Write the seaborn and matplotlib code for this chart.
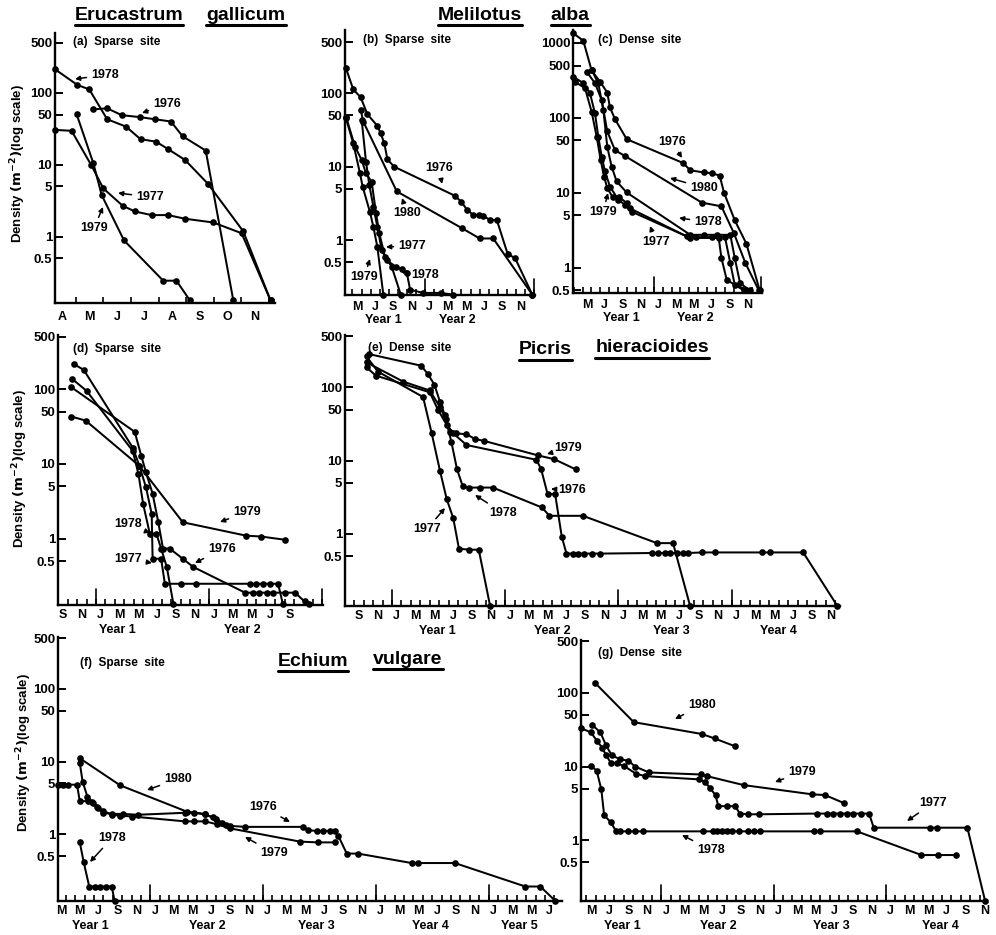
import numpy as np
import pandas as pd
import seaborn as sns
import matplotlib.pyplot as plt
from matplotlib.lines import Line2D
from matplotlib.text import Annotation
from matplotlib.ticker import FixedLocator, NullLocator

W, H = 996, 935

sns.set_style("ticks")
plt.rcParams['font.family'] = ['Liberation Sans', 'DejaVu Sans']
plt.rcParams['font.weight'] = 'bold'
plt.rcParams['axes.linewidth'] = 1.7
for key in ('text.color', 'axes.edgecolor', 'axes.labelcolor', 'xtick.color', 'ytick.color'):
    plt.rcParams[key] = 'k'

# ---- data: month index (1 = Jan of first year), density per m2 ----
# (a) Erucastrum gallicum, sparse site
a_1976_m = [5.14, 5.64, 6.17, 6.83, 7.37, 7.95, 8.37, 9.21, 10.21]
a_1976_d = [59, 61, 49, 46, 43, 40, 25, 15.8, 0.13]
a_1977_m = [3.75, 4.35, 5.07, 5.50, 6.20, 6.64, 7.25, 7.85, 8.46, 9.48, 10.51, 11.56]
a_1977_d = [30.6, 29.7, 9.8, 4.7, 2.7, 2.25, 2.0, 2.0, 1.78, 1.58, 1.12, 0.13]
a_1978_m = [3.75, 4.56, 4.99, 5.64, 6.32, 6.85, 7.41, 7.85, 8.46, 9.30, 10.57, 11.56]
a_1978_d = [213, 129, 112, 43, 34, 22.7, 21, 16.5, 11.7, 5.4, 1.19, 0.13]
a_1979_m = [4.53, 5.14, 5.44, 6.25, 7.67, 8.15, 8.64]
a_1979_d = [51, 10.5, 3.8, 0.89, 0.245, 0.245, 0.13]

# (b) Melilotus alba, sparse site
b_1976_m = [3.79, 4.59, 5.41, 6.14, 7.24, 7.61, 8.01, 8.35, 9.08, 15.8, 16.5, 17.1,
            17.8, 18.4, 18.9, 19.7, 20.4, 21.6, 22.4, 24.3]
b_1976_d = [219, 113, 88, 52, 36, 28.5, 20.8, 12.6, 10, 4.0, 3.3, 2.6,
            2.2, 2.2, 2.13, 1.87, 1.87, 0.64, 0.57, 0.18]
b_1977_m = [3.79, 4.78, 5.52, 5.99, 6.62, 7.10, 7.46, 8.09, 8.83, 9.82]
b_1977_d = [48, 18.8, 12.3, 8.1, 6.2, 2.3, 1.23, 0.59, 0.43, 0.18]
b_1978_m = [5.52, 5.99, 6.36, 6.80, 7.24, 7.72, 8.28, 9.30, 9.93, 10.5, 10.85, 12.3, 14.2, 15.6]
b_1978_d = [43, 11.7, 5.6, 2.85, 1.52, 0.73, 0.53, 0.43, 0.40, 0.35, 0.21, 0.19, 0.19, 0.18]
b_1979_m = [3.79, 4.59, 5.33, 5.63, 6.43, 6.80, 7.24, 7.9]
b_1979_d = [45.6, 20.8, 8.1, 5.3, 2.4, 1.52, 0.81, 0.18]
b_1980_m = [5.41, 5.70, 9.38, 16.6, 18.5, 20.0, 24.3]
b_1980_d = [59, 41, 4.6, 1.44, 1.05, 1.05, 0.18]

# (c) Melilotus alba, dense site
c_1976_m = [3.39, 4.59, 5.52, 6.46, 7.28, 7.58, 8.15, 9.46, 15.8, 16.6, 18.1, 19.0,
            19.9, 20.4, 21.6, 22.9, 24.4]
c_1976_d = [1370, 1070, 430, 305, 218, 138, 96, 52, 25, 20, 18.7, 18.3,
            17, 10, 4.3, 2.1, 0.5]
c_1977_m = [3.46, 4.59, 5.34, 5.90, 6.27, 6.65, 7.02, 7.58, 8.52, 9.27, 10.02, 16.6,
            19.8, 20.1, 20.7, 22.6]
c_1977_d = [356, 290, 213, 115, 56, 30.5, 19.3, 12.1, 8.1, 6.9, 5.6, 2.5,
            2.5, 1.35, 0.69, 0.5]
c_1978_m = [5.52, 6.27, 6.84, 7.28, 7.77, 8.33, 9.46, 16.6, 18.1, 19.6, 21.1, 21.6, 22.2, 23.3]
c_1978_d = [437, 290, 128, 41, 22.4, 14.2, 10.1, 2.75, 2.75, 2.75, 2.75, 1.35, 0.62, 0.5]
c_1979_m = [3.65, 4.78, 5.52, 6.09, 6.54, 6.91, 7.28, 7.88, 8.63, 9.46, 9.83, 16.2,
            17.3, 19.0, 20.5, 21.1, 21.6, 22.9]
c_1979_d = [305, 249, 121, 56, 27.5, 16.5, 11.6, 8.75, 8.75, 7.3, 6.2, 2.62,
            2.56, 2.56, 2.56, 1.15, 0.59, 0.5]
c_1980_m = [4.96, 5.90, 6.65, 7.28, 8.15, 9.27, 17.9, 20.1, 21.5, 22.8, 24.3]
c_1980_d = [415, 290, 174, 66, 37, 31, 7.4, 6.6, 2.9, 1.15, 0.5]

# (d) Picris hieracioides, sparse site
d_1976_m = [9.8, 16.6, 17.3, 17.8, 18.5, 19.1, 19.6, 20.3, 21.7, 22.8, 28.3, 29.1,
            29.8, 30.6, 31.3, 32.5, 33.6, 34.6, 35.1]
d_1976_d = [108, 26.9, 12.8, 7.7, 4.0, 1.66, 0.74, 0.74, 0.54, 0.42, 0.19, 0.19,
            0.19, 0.19, 0.19, 0.19, 0.19, 0.145, 0.135]
d_1977_m = [10.2, 11.2, 16.4, 17.1, 17.8, 18.4, 18.5, 19.4, 19.8, 21.5, 23.1, 28.8,
            29.5, 30.2, 30.9, 31.8, 32.3]
d_1977_d = [215, 181, 16.5, 9.4, 4.85, 2.15, 0.54, 0.54, 0.25, 0.25, 0.25, 0.25,
            0.25, 0.25, 0.25, 0.25, 0.135]
d_1978_m = [10.0, 11.5, 16.4, 17.0, 17.5, 18.2, 18.9, 19.4, 20.0, 20.7]
d_1978_d = [136, 95, 14.9, 7.3, 2.9, 1.17, 1.17, 0.74, 0.42, 0.135]
d_1979_m = [9.9, 11.4, 17.1, 21.7, 28.4, 30.0, 32.5]
d_1979_d = [43, 38, 9.4, 1.66, 1.1, 1.07, 0.97]

# (e) Picris hieracioides, dense site
e_1976_m = [9.8, 10.8, 16.5, 17.4, 18.3, 19.0, 20.4, 27.8, 28.3, 29.0, 29.8, 30.5,
            31.0, 31.7, 32.2, 32.9, 33.7, 34.6, 40.1, 40.7, 41.4, 42.0, 42.7, 43.4,
            43.9, 45.4, 46.8, 51.7, 52.6, 56.1, 59.7]
e_1976_d = [188, 145, 86, 49, 31, 23.6, 16.4, 10.3, 7.8, 3.5, 3.5, 0.92,
            0.54, 0.54, 0.54, 0.54, 0.54, 0.54, 0.55, 0.55, 0.55, 0.55, 0.55, 0.55,
            0.55, 0.56, 0.56, 0.56, 0.56, 0.56, 0.105]
e_1977_m = [9.8, 11.0, 15.8, 16.7, 17.6, 18.3, 19.0, 19.6, 20.7, 21.7, 22.9]
e_1977_d = [265, 165, 74, 24, 7.2, 3.0, 1.64, 0.63, 0.61, 0.61, 0.105]
e_1978_m = [9.8, 13.7, 16.5, 17.6, 18.2, 18.8, 19.4, 20.0, 20.7, 21.8, 23.2, 28.4,
            29.2, 32.75, 40.6, 42.3, 44.1]
e_1978_d = [220, 120, 91, 54, 37, 18, 7.6, 4.5, 4.3, 4.3, 4.3, 2.3,
            1.77, 1.77, 0.75, 0.75, 0.105]
e_1979_m = [10.1, 15.6, 16.3, 17.0, 17.6, 18.1, 18.7, 19.3, 20.4, 21.3, 22.3, 28.0, 29.7, 32.0]
e_1979_d = [285, 198, 153, 109, 63, 42, 25, 23.6, 23, 19.8, 18.6, 11.8, 10.5, 7.6]

# (f) Echium vulgare, sparse site
f_1976_m = [2.7, 3.2, 3.7, 4.7, 5.0, 5.9, 6.4, 6.9, 7.5, 8.4, 9.6, 11.2, 16.2, 17.2,
            18.3, 19.2, 20.1, 21.0, 22.6, 28.7, 29.3, 30.2, 30.9, 31.6, 32.1, 32.5,
            33.4, 34.6, 40.3, 41.0, 44.9, 52.4, 54.0, 55.6]
f_1976_d = [4.8, 4.8, 4.8, 4.8, 2.85, 2.85, 2.7, 2.3, 1.97, 1.9, 1.9, 1.85, 1.97, 1.97,
            1.87, 1.7, 1.44, 1.3, 1.26, 1.26, 1.13, 1.11, 1.11, 1.11, 1.11, 0.95,
            0.54, 0.54, 0.40, 0.40, 0.40, 0.19, 0.19, 0.12]
f_1978_m = [5.0, 5.4, 6.0, 6.6, 7.1, 7.8, 8.4, 8.7]
f_1978_d = [0.77, 0.42, 0.19, 0.19, 0.19, 0.19, 0.19, 0.12]
f_1979_m = [5.0, 5.3, 5.8, 6.3, 6.8, 7.5, 8.4, 9.3, 10.6, 16.2, 17.2, 18.3, 19.6, 21.0,
            28.4, 30.3, 32.1]
f_1979_d = [9.5, 5.3, 3.3, 2.8, 2.4, 2.1, 1.85, 1.8, 1.75, 1.5, 1.5, 1.5, 1.37, 1.2,
            0.79, 0.77, 0.77]
f_1980_m = [5.0, 9.3, 16.4, 18.3, 19.5, 20.6]
f_1980_d = [11.1, 4.7, 2.04, 1.9, 1.6, 1.35]

# (g) Echium vulgare, dense site
g_1977_m = [3.95, 5.0, 5.6, 6.2, 6.6, 7.1, 7.8, 8.5, 9.8, 10.8, 16.5, 17.2, 17.7, 18.3,
            18.6, 19.5, 20.4, 20.9, 21.8, 22.9, 29.1, 30.2, 30.9, 31.6, 32.3, 33.0,
            33.8, 34.7, 35.2, 41.2, 42.0, 45.2, 47.1]
g_1977_d = [33, 29, 22.5, 18, 14.3, 11.3, 11, 10.2, 8, 7.4, 6.7, 6.2, 5.1, 4.1,
            2.9, 2.9, 2.9, 2.3, 2.25, 2.25, 2.3, 2.3, 2.3, 2.3, 2.3, 2.3,
            2.3, 2.3, 1.48, 1.48, 1.48, 1.48, 0.15]
g_1978_m = [5.0, 5.6, 6.1, 6.4, 7.1, 7.7, 8.1, 8.9, 9.7, 10.6, 17.0, 18.0, 18.5, 19.0,
            19.5, 20.1, 20.8, 21.8, 22.4, 23.1, 28.8, 29.5, 33.4, 40.3, 42.1, 44.0]
g_1978_d = [10.2, 8.8, 4.9, 2.2, 1.75, 1.32, 1.32, 1.32, 1.32, 1.32, 1.32, 1.32, 1.32,
            1.32, 1.32, 1.32, 1.32, 1.32, 1.32, 1.32, 1.32, 1.32, 1.32, 0.63, 0.63, 0.63]
g_1979_m = [5.1, 6.0, 6.6, 7.2, 8.1, 9.0, 9.7, 11.2, 16.7, 17.4, 21.3, 28.6, 30.0, 32.0]
g_1979_d = [37, 29, 19.4, 14.3, 12.5, 12, 10, 8.3, 7.8, 7.4, 5.6, 4.2, 4.1, 3.2]
g_1980_m = [5.46, 9.56, 16.85, 18.2, 20.4]
g_1980_d = [135, 40, 27.6, 24, 18.8]

y_ticks = [0.5, 1, 5, 10, 50, 100, 500]
y_ticks_c = [0.5, 1, 5, 10, 50, 100, 500, 1000]

fig = plt.figure(figsize=(W / 100, H / 100), dpi=100)


def panel(left, top, right, bottom):
    ax = fig.add_axes([left / W, 1 - bottom / H, (right - left) / W, (bottom - top) / H])
    ax.patch.set_visible(False)
    return ax


def draw(ax, series):
    df = pd.concat([pd.DataFrame({'month': m, 'density': d, 'cohort': c})
                    for c, (m, d) in series.items()])
    sns.lineplot(data=df, x='month', y='density', units='cohort', estimator=None,
                 sort=False, color='k', lw=1.45, marker='o', ms=4.8, mew=0,
                 clip_on=False, ax=ax)
    ax.set_xlabel('')
    ax.set_ylabel('')


def setup(ax, xlim, ylim, yt, lab_months, years=(), pad=4):
    ax.set_yscale('log')
    ax.set_xlim(xlim)
    ax.set_ylim(ylim)
    ax.set_yticks(yt)
    ax.set_yticklabels([f'{v:g}' for v in yt])
    ax.yaxis.set_minor_locator(NullLocator())
    ax.set_xticks(lab_months)
    ax.set_xticklabels(["JFMAMJJASOND"[(m - 1) % 12] for m in lab_months])
    ax.xaxis.set_minor_locator(FixedLocator(np.arange(np.floor(xlim[0]) + 0.5, xlim[1], 1.0)))
    ax.xaxis.remove_overlapping_locs = False
    ax.tick_params(axis='x', which='major', length=0, pad=pad, labelsize=9)
    ax.tick_params(axis='x', which='minor', direction='in', length=4, width=1.2)
    ax.tick_params(axis='y', which='major', direction='in', length=6, width=1.4,
                   labelsize=9.5, pad=2)
    sns.despine(ax=ax)
    for yb in (12.5, 24.5, 36.5, 48.5):
        if xlim[0] < yb < xlim[1]:
            ax.plot([yb, yb], [0, 0.06], transform=ax.get_xaxis_transform(),
                    color='k', lw=1.2, clip_on=False)
    for label, m in years:
        ax.annotate(label, xy=(m, 0), xycoords=('data', 'axes fraction'),
                    xytext=(0, -13.5), textcoords='offset points',
                    ha='center', va='top', fontsize=9, fontweight='bold')


ax_a = panel(55, 33, 275, 303)
draw(ax_a, {'1976': (a_1976_m, a_1976_d), '1977': (a_1977_m, a_1977_d),
            '1978': (a_1978_m, a_1978_d), '1979': (a_1979_m, a_1979_d)})
setup(ax_a, (3.75, 11.72), (0.12, 680), y_ticks, list(range(4, 12)), pad=6)

ax_b = panel(345, 30, 535, 295)
draw(ax_b, {'1976': (b_1976_m, b_1976_d), '1977': (b_1977_m, b_1977_d),
            '1978': (b_1978_m, b_1978_d), '1979': (b_1979_m, b_1979_d),
            '1980': (b_1980_m, b_1980_d)})
setup(ax_b, (3.68, 24.6), (0.178, 730), y_ticks, list(range(5, 24, 2)),
      [('Year 1', 7.9), ('Year 2', 16.1)])

ax_c = panel(573, 30, 762, 293)
draw(ax_c, {'1976': (c_1976_m, c_1976_d), '1977': (c_1977_m, c_1977_d),
            '1978': (c_1978_m, c_1978_d), '1979': (c_1979_m, c_1979_d),
            '1980': (c_1980_m, c_1980_d)})
setup(ax_c, (3.43, 24.66), (0.46, 1490), y_ticks_c, list(range(5, 24, 2)),
      [('Year 1', 8.9), ('Year 2', 17.2)])

ax_d = panel(58, 335, 323, 605)
draw(ax_d, {'1976': (d_1976_m, d_1976_d), '1977': (d_1977_m, d_1977_d),
            '1978': (d_1978_m, d_1978_d), '1979': (d_1979_m, d_1979_d)})
setup(ax_d, (8.47, 36.56), (0.13, 530), y_ticks, list(range(9, 34, 2)),
      [('Year 1', 14.8), ('Year 2', 28.0)], pad=3)

ax_e = panel(345, 335, 840, 606)
draw(ax_e, {'1976': (e_1976_m, e_1976_d), '1977': (e_1977_m, e_1977_d),
            '1978': (e_1978_m, e_1978_d), '1979': (e_1979_m, e_1979_d)})
setup(ax_e, (7.52, 60.0), (0.104, 520), y_ticks, list(range(9, 60, 2)),
      [('Year 1', 17.3), ('Year 2', 29.5), ('Year 3', 42.1), ('Year 4', 53.5)], pad=3)

ax_f = panel(58, 637, 562, 901)
draw(ax_f, {'1976': (f_1976_m, f_1976_d), '1978': (f_1978_m, f_1978_d),
            '1979': (f_1979_m, f_1979_d), '1980': (f_1980_m, f_1980_d)})
setup(ax_f, (2.68, 56.3), (0.12, 520), y_ticks, list(range(3, 56, 2)),
      [('Year 1', 6.1), ('Year 2', 18.6), ('Year 3', 30.2), ('Year 4', 42.3),
       ('Year 5', 51.8)], pad=3)

ax_g = panel(581, 640, 987, 901)
draw(ax_g, {'1977': (g_1977_m, g_1977_d), '1978': (g_1978_m, g_1978_d),
            '1979': (g_1979_m, g_1979_d), '1980': (g_1980_m, g_1980_d)})
setup(ax_g, (3.93, 47.3), (0.15, 520), y_ticks, list(range(5, 48, 2)),
      [('Year 1', 8.3), ('Year 2', 18.6), ('Year 3', 30.7), ('Year 4', 42.3)], pad=3)

# cohort labels with arrows (text x, y, arrow tip x, y in figure pixels from top-left)
notes = [
    ('1978', 105, 75, 75, 79), ('1976', 167, 104, 142, 113),
    ('1977', 150, 197, 118, 193), ('1979', 94, 228, 103, 207),
    ('1976', 439, 168, 442, 184), ('1980', 407, 213, 402, 198),
    ('1977', 412, 246, 386, 247), ('1978', 425, 275, 401, 272),
    ('1979', 364, 277, 370, 259),
    ('1976', 672, 142, 682, 158), ('1980', 704, 188, 670, 178),
    ('1978', 708, 222, 679, 218), ('1977', 656, 242, 650, 226),
    ('1979', 603, 212, 608, 193),
    ('1979', 247, 512, 220, 522), ('1978', 128, 524, 150, 533),
    ('1976', 222, 549, 195, 563), ('1977', 128, 559, 152, 563),
    ('1979', 568, 448, 547, 454), ('1976', 572, 490, 551, 489),
    ('1978', 503, 513, 475, 495), ('1977', 427, 529, 445, 508),
    ('1980', 178, 779, 147, 790), ('1976', 263, 807, 290, 822),
    ('1979', 274, 853, 245, 837), ('1978', 112, 838, 90, 862),
    ('1980', 702, 705, 675, 719), ('1979', 802, 772, 775, 782),
    ('1977', 933, 803, 907, 821), ('1978', 711, 850, 682, 835),
]
for txt, tx, ty, px_, py_ in notes:
    fig.add_artist(Annotation(txt, xy=(px_, H - py_), xycoords='figure pixels',
                              xytext=(tx, H - ty), textcoords='figure pixels',
                              ha='center', va='center', fontsize=9, fontweight='bold',
                              annotation_clip=False,
                              arrowprops=dict(arrowstyle='-|>', color='k', lw=1.1,
                                              mutation_scale=7, shrinkA=1, shrinkB=0)))

# panel captions
captions = [('(a)  Sparse  site', 73, 42), ('(b)  Sparse  site', 363, 40),
            ('(c)  Dense  site', 598, 40), ('(d)  Sparse  site', 73, 349),
            ('(e)  Dense  site', 368, 348), ('(f)  Sparse  site', 80, 663),
            ('(g)  Dense  site', 598, 653)]
for txt, x, y in captions:
    fig.text(x / W, 1 - y / H, txt, ha='left', va='center', fontsize=8.5, fontweight='bold')

ylab = r'Density $\left(\mathrm{m}^{-2}\right)$(log scale)'
for x, y in ((18, 163), (20, 468), (24, 752)):
    fig.text(x / W, 1 - y / H, ylab, rotation=90, ha='center', va='center',
             fontsize=9.5, fontweight='bold')

# species names, underlined word by word
species = [('Erucastrum', 129, 15), ('gallicum', 246, 15), ('Melilotus', 480, 15),
           ('alba', 570, 15), ('Picris', 545, 350), ('hieracioides', 652, 348),
           ('Echium', 313, 661), ('vulgare', 408, 659)]
words = [fig.text(x / W, 1 - y / H, w, ha='center', va='center', fontsize=14,
                  fontweight='bold') for w, x, y in species]
fig.canvas.draw()
for t in words:
    bb = t.get_window_extent().transformed(fig.transFigure.inverted())
    yl = bb.y0 - 1.0 / H
    fig.add_artist(Line2D([bb.x0, bb.x1], [yl, yl], color='k', lw=2.2,
                          transform=fig.transFigure))

fig.savefig('out.png', dpi=100)
